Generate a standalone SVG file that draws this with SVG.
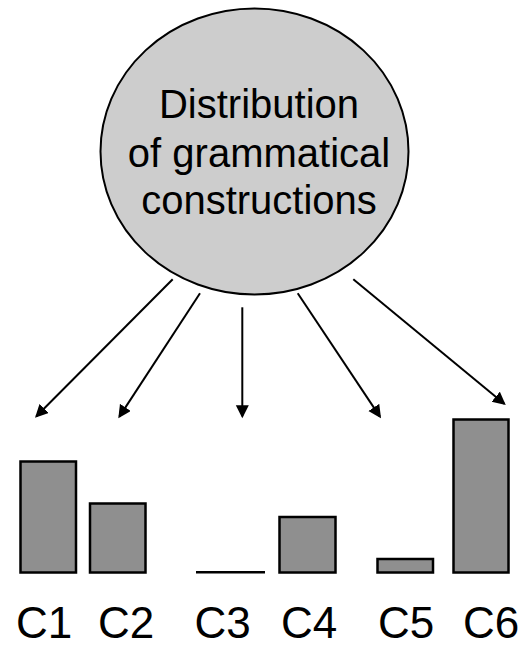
<svg xmlns="http://www.w3.org/2000/svg" width="526" height="646" viewBox="0 0 526 646">
  <style>
    .lbl { font-family: "Liberation Sans", Arial, sans-serif; fill: #000; }
    .title { font-size: 40px; text-anchor: middle; }
    .cat { font-size: 44px; }
    .bar { fill: #8f8f8f; stroke: #000; stroke-width: 2.5; }
    .conn { stroke: #000; stroke-width: 2; fill: none; marker-end: url(#arrow); }
  </style>
  <defs>
    <marker id="arrow" markerUnits="userSpaceOnUse" markerWidth="14" markerHeight="14" refX="11" refY="6.5" orient="auto">
      <path d="M0,0 L13,6.5 L0,13 Z" fill="#000"/>
    </marker>
  </defs>
  <rect width="526" height="646" fill="#fff"/>

  <g id="distribution">
    <ellipse cx="254.5" cy="151.5" rx="154" ry="143" fill="#cdcdcd" stroke="#000" stroke-width="2"/>
    <text class="lbl title" x="259" y="118">Distribution</text>
    <text class="lbl title" x="259" y="166.5">of grammatical</text>
    <text class="lbl title" x="259" y="213.5">constructions</text>
  </g>

  <g id="connectors">
    <line class="conn" x1="172.7" y1="279.3" x2="36.4" y2="416.3"/>
    <line class="conn" x1="200" y1="293.3" x2="119.4" y2="416.6"/>
    <line class="conn" x1="242.3" y1="307.3" x2="242.3" y2="416.3"/>
    <line class="conn" x1="297.7" y1="293.3" x2="379.9" y2="416.6"/>
    <line class="conn" x1="353.3" y1="279.3" x2="504.2" y2="403.7"/>
  </g>

  <g id="C1">
    <rect class="bar" x="20.5" y="461.5" width="55.5" height="111"/>
    <text class="lbl cat" x="16" y="638">C1</text>
  </g>
  <g id="C2">
    <rect class="bar" x="90" y="503.5" width="55.5" height="69"/>
    <text class="lbl cat" x="98" y="638">C2</text>
  </g>
  <g id="C3">
    <line x1="196" y1="572.3" x2="265" y2="572.3" stroke="#000" stroke-width="2.5"/>
    <text class="lbl cat" x="194.5" y="638">C3</text>
  </g>
  <g id="C4">
    <rect class="bar" x="279.5" y="517" width="56" height="55.5"/>
    <text class="lbl cat" x="281" y="638">C4</text>
  </g>
  <g id="C5">
    <rect class="bar" x="377.5" y="559" width="55.5" height="13.5"/>
    <text class="lbl cat" x="378" y="638">C5</text>
  </g>
  <g id="C6">
    <rect class="bar" x="453.5" y="419.5" width="55" height="153"/>
    <text class="lbl cat" x="463" y="638">C6</text>
  </g>
</svg>
